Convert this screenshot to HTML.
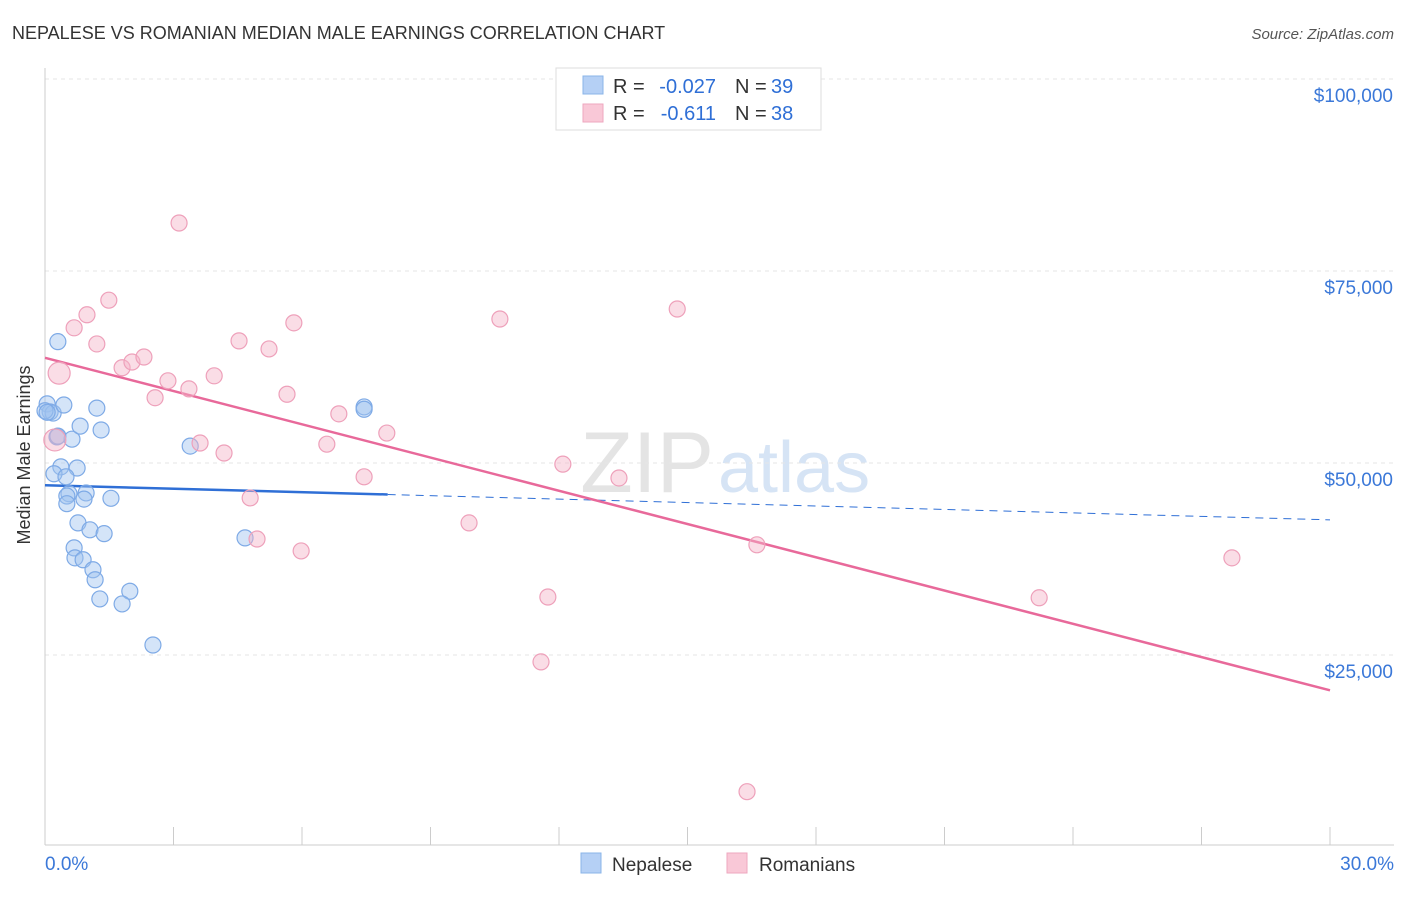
<!DOCTYPE html>
<html><head><meta charset="utf-8"><style>
body{margin:0;background:#fff;font-family:"Liberation Sans",sans-serif;}
svg text{font-family:"Liberation Sans",sans-serif;}
</style></head><body>
<svg id="chart" width="1406" height="892" xmlns="http://www.w3.org/2000/svg">
<text x="12" y="39" font-size="18" fill="#333">NEPALESE VS ROMANIAN MEDIAN MALE EARNINGS CORRELATION CHART</text>
<text x="1394" y="39" font-size="15" fill="#555" text-anchor="end" font-style="italic">Source: ZipAtlas.com</text>
<text x="714" y="492" font-size="86" fill="#e4e4e4" text-anchor="end" font-family="Liberation Serif">ZIP</text>
<text x="718" y="492" font-size="72" fill="#d6e4f5">atlas</text>
<g id="grid"></g><g id="axes"></g><g id="lines"></g><g id="pts"></g>
<text x="30" y="455" font-size="18" fill="#333" text-anchor="middle" transform="rotate(-90 30 455)">Median Male Earnings</text>
<g>
<rect x="556" y="68" width="265" height="62" fill="#fff" stroke="#ddd"/>
<rect x="583" y="76" width="20" height="18" fill="#b5d0f5" stroke="#8ab4e8"/>
<rect x="583" y="104" width="20" height="18" fill="#f9c8d7" stroke="#eea7bf"/>
<text x="613" y="93" font-size="20" fill="#333">R =</text>
<text x="716" y="93" font-size="20" fill="#2f6fd6" text-anchor="end">-0.027</text>
<text x="735" y="93" font-size="20" fill="#333">N =</text>
<text x="771" y="93" font-size="20" fill="#2f6fd6">39</text>
<text x="613" y="120" font-size="20" fill="#333">R =</text>
<text x="716" y="120" font-size="20" fill="#2f6fd6" text-anchor="end">-0.611</text>
<text x="735" y="120" font-size="20" fill="#333">N =</text>
<text x="771" y="120" font-size="20" fill="#2f6fd6">38</text>
</g>
<g>
<rect x="581" y="853" width="20" height="20" fill="#b5d0f5" stroke="#8ab4e8"/>
<text x="612" y="871" font-size="19" fill="#333">Nepalese</text>
<rect x="727" y="853" width="20" height="20" fill="#f9c8d7" stroke="#eea7bf"/>
<text x="759" y="871" font-size="19" fill="#333">Romanians</text>
</g>
</svg>
<script>
const yTicks=[25000,50000,75000,100000];
const yTickLabels=["$25,000","$50,000","$75,000","$100,000"];
const xTickLabels=["0.0%","30.0%"];
const nepaleseX=[0.05,0.12,0.19,0.0,0.30,0.44,0.28,0.63,0.82,1.21,1.31,0.37,0.75,0.21,0.49,0.56,0.51,0.96,0.91,1.54,0.51,0.77,1.05,1.38,0.68,0.70,0.89,1.12,1.17,1.98,1.28,1.80,2.52,3.39,4.67,7.45,7.45,0.30,0.05];
const nepaleseY=[57700,56650,56500,56800,65800,57550,53400,53100,54800,57150,54300,49500,49350,48600,48200,46000,45700,46100,45300,45400,44700,42200,41300,40800,38950,37650,37400,36100,34800,33300,32300,31650,26300,52200,40250,57300,57000,53500,56600];
const romanianX=[3.13,1.49,0.98,0.68,1.21,0.33,1.80,2.03,2.31,2.87,2.57,3.36,3.95,4.53,5.23,5.81,5.65,3.62,4.18,4.79,4.95,5.98,6.58,6.86,7.98,7.45,10.62,9.90,12.09,13.40,11.74,11.58,14.76,16.62,16.39,23.21,27.71,0.23];
const romanianY=[81250,71200,69300,67600,65500,61700,62400,63150,63800,60700,58500,59650,61350,65900,64850,68250,58950,52600,51300,45450,40100,38550,52450,56400,53900,48200,68750,42200,49850,48050,32550,24100,70050,39350,7200,32450,37650,53000];
const nepaleseTrend=[47100,42600];
const romanianTrend=[63700,20400];
const NS="http://www.w3.org/2000/svg";
const X=p=>45+p*(1285/30), Y=v=>79+(100000-v)*192/25000;
function mk(t,a,parent){const e=document.createElementNS(NS,t);for(const k in a)e.setAttribute(k,a[k]);document.getElementById(parent).appendChild(e);return e;}
yTicks.forEach((v,i)=>{
 const g=mk('line',{x1:45,x2:1394,y1:Y(v),y2:Y(v),stroke:'#e6e6e6','stroke-dasharray':'4,4'},'grid');
 
 
 const t=mk('text',{x:1393,y:Y(v)+23,'font-size':19,fill:'#3b78d8','text-anchor':'end'},'axes');
 t.textContent=yTickLabels[i];
 
 
});
const ax=mk('line',{x1:45,x2:45,y1:68,y2:845,stroke:'#ccc'},'axes');


const bx=mk('line',{x1:45,x2:1394,y1:845,y2:845,stroke:'#ccc'},'axes');


for(let p=0;p<=30;p+=3){const t=mk('line',{x1:X(p),x2:X(p),y1:827,y2:845,stroke:'#ccc'},'axes');
 
 }
[[0,'start',45],[30,'end',1394]].forEach((d,i)=>{const t=mk('text',{x:d[2],y:870,'font-size':19,fill:'#3b78d8','text-anchor':d[1]},'axes');t.textContent=xTickLabels[i];
 
 });
const bv=p=>nepaleseTrend[0]+(nepaleseTrend[1]-nepaleseTrend[0])*p/30;
let l=mk('line',{x1:X(0),y1:Y(bv(0)),x2:X(8),y2:Y(bv(8)),stroke:'#2f6fd6','stroke-width':2.5},'lines');


l=mk('line',{x1:X(8),y1:Y(bv(8)),x2:X(30),y2:Y(bv(30)),stroke:'#2f6fd6','stroke-width':1,'stroke-dasharray':'8,6'},'lines');


nepaleseX.forEach((x,i)=>{const c=mk('circle',{cx:X(x),cy:Y(nepaleseY[i]),r:8,fill:'rgba(160,196,240,0.45)',stroke:'#7eaae6','stroke-width':1.2},'pts');
 
 });
romanianX.forEach((x,i)=>{const c=mk('circle',{cx:X(x),cy:Y(romanianY[i]),r:(i==5||i==37)?11:8,fill:'rgba(245,180,200,0.45)',stroke:'#eea0ba','stroke-width':1.2},'pts');
 
 });
l=mk('line',{x1:X(0),y1:Y(romanianTrend[0]),x2:X(30),y2:Y(romanianTrend[1]),stroke:'#e8699a','stroke-width':2.5},'lines');


</script>
</body></html>
